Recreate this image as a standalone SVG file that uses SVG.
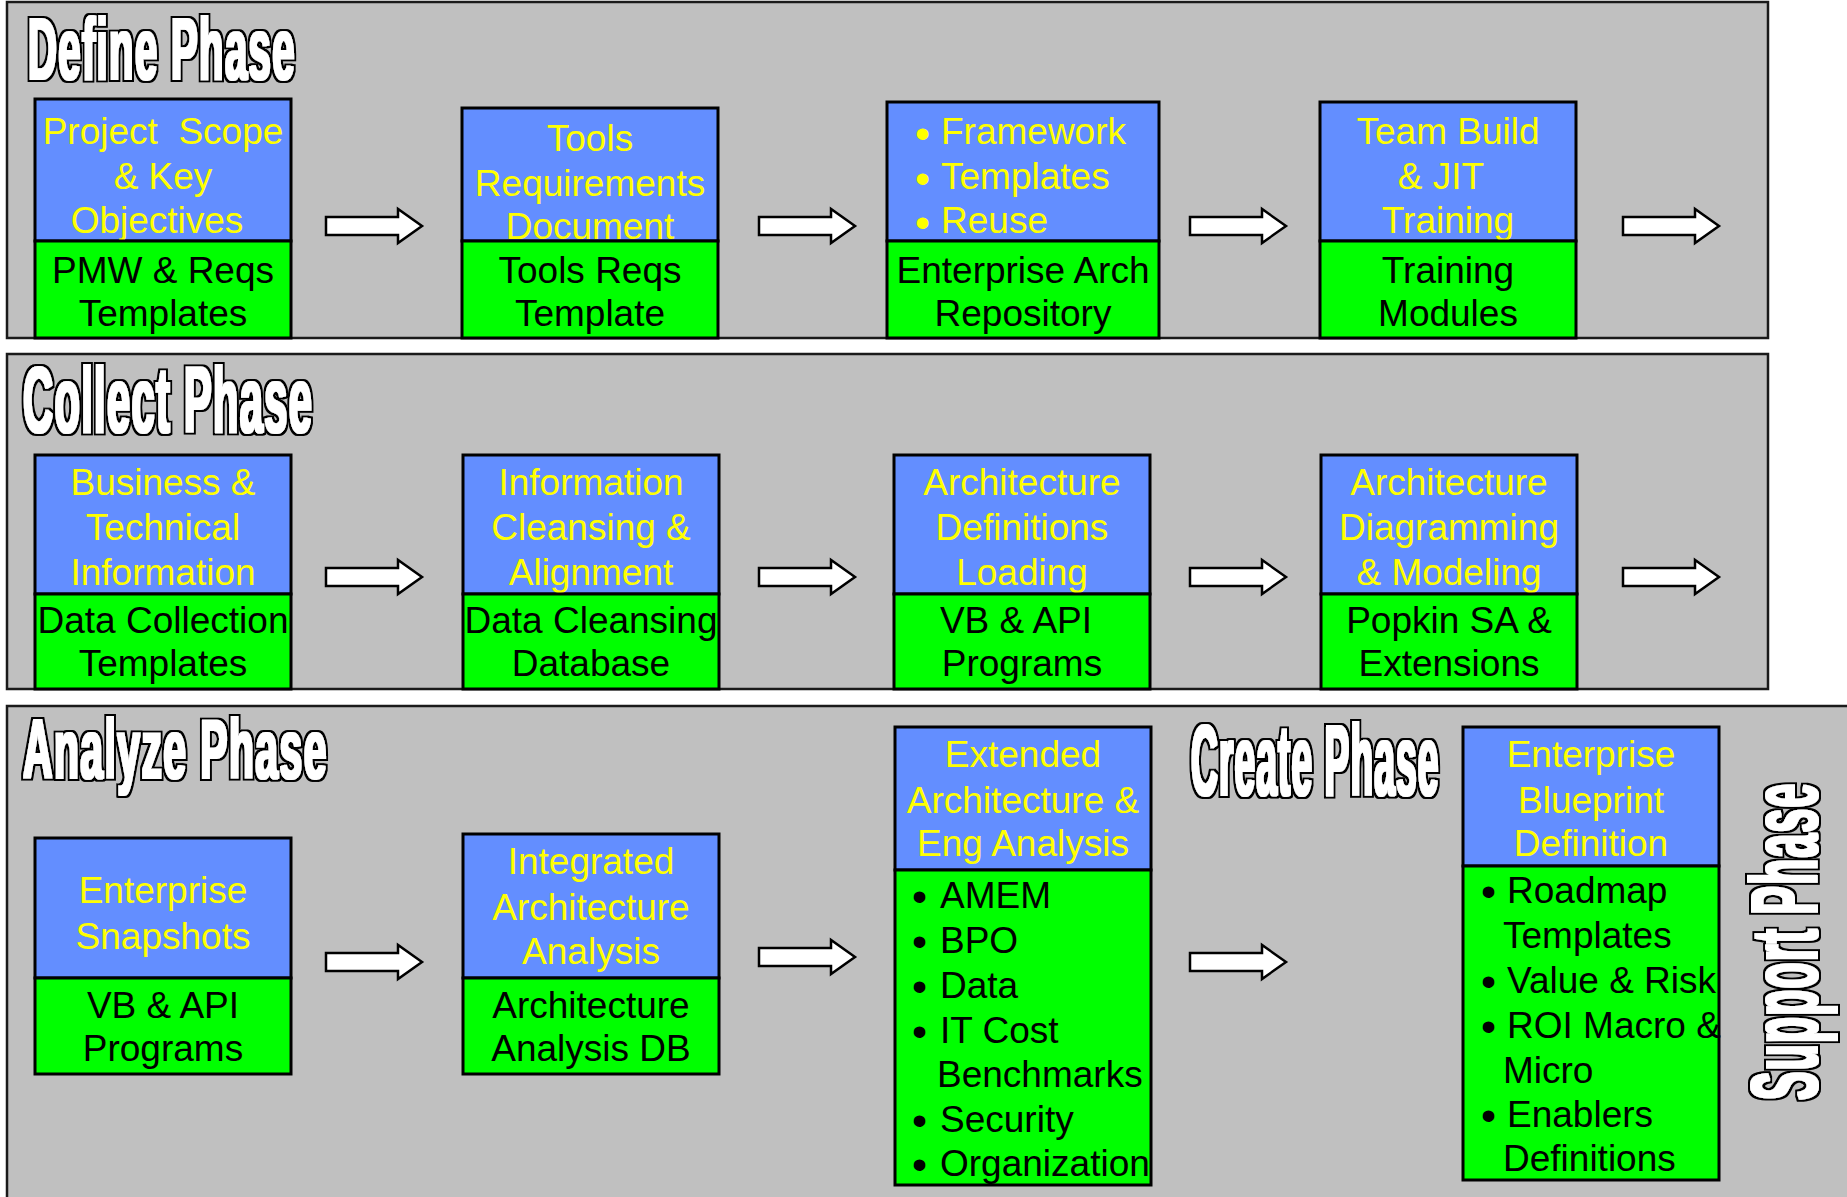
<svg xmlns="http://www.w3.org/2000/svg" width="1847" height="1197" viewBox="0 0 1847 1197">
<style>
.panel{fill:#C0C0C0;stroke:#1a1a1a;stroke-width:2.5}
.hb{fill:#638EFF;stroke:#000;stroke-width:3}
.gb{fill:#00FF00;stroke:#000;stroke-width:3}
.y{fill:#FFFF00;font-family:"Liberation Sans",Arial,sans-serif;font-size:37px;text-anchor:middle}
.k{fill:#000;font-family:"Liberation Sans",Arial,sans-serif;font-size:37px;text-anchor:middle}
.yl{fill:#FFFF00;font-family:"Liberation Sans",Arial,sans-serif;font-size:37px}
.kl{fill:#000;font-family:"Liberation Sans",Arial,sans-serif;font-size:37px}
.bu{font-size:43px}
.ttl{fill:#fff;font-family:"Liberation Sans",Arial,sans-serif;font-weight:bold;letter-spacing:3px}
.arr{fill:#fff;stroke:#000;stroke-width:2.5;stroke-linejoin:miter}
</style>
<defs>
<path id="arrow" class="arr" d="M0,-9 H72 V-17 L96,0 L72,17 V9 H0 Z"/>
<filter id="f47" x="-5%" y="-20%" width="110%" height="140%">
<feMorphology in="SourceAlpha" operator="dilate" radius="2.6 0.6" result="w"/>
<feMorphology in="SourceAlpha" operator="dilate" radius="6.6 2.5" result="b"/>
<feFlood flood-color="#000000"/>
<feComposite in2="b" operator="in" result="bo"/>
<feFlood flood-color="#ffffff"/>
<feComposite in2="w" operator="in" result="wo"/>
<feMerge><feMergeNode in="bo"/><feMergeNode in="wo"/></feMerge>
</filter>
<filter id="f39" x="-5%" y="-20%" width="110%" height="140%">
<feMorphology in="SourceAlpha" operator="dilate" radius="3.1 0.6" result="w"/>
<feMorphology in="SourceAlpha" operator="dilate" radius="8 2.5" result="b"/>
<feFlood flood-color="#000000"/>
<feComposite in2="b" operator="in" result="bo"/>
<feFlood flood-color="#ffffff"/>
<feComposite in2="w" operator="in" result="wo"/>
<feMerge><feMergeNode in="bo"/><feMergeNode in="wo"/></feMerge>
</filter>
<filter id="fS" x="-5%" y="-20%" width="110%" height="140%">
<feMorphology in="SourceAlpha" operator="dilate" radius="2 0.5" result="w"/>
<feMorphology in="SourceAlpha" operator="dilate" radius="6 2.5" result="b"/>
<feFlood flood-color="#000000"/>
<feComposite in2="b" operator="in" result="bo"/>
<feFlood flood-color="#ffffff"/>
<feComposite in2="w" operator="in" result="wo"/>
<feMerge><feMergeNode in="bo"/><feMergeNode in="wo"/></feMerge>
</filter>
</defs>

<g id="panels">
<rect id="define-panel" class="panel" x="7" y="2" width="1761" height="336"/>
<rect id="collect-panel" class="panel" x="7" y="354" width="1761" height="335"/>
<rect id="analyze-panel" class="panel" x="7" y="706" width="1845" height="500"/>
</g>

<g id="titles">
<text id="t-define" class="ttl" font-size="88" filter="url(#f47)" transform="translate(28,79) scale(0.455,1)">Define Phase</text>
<text id="t-collect" class="ttl" font-size="92" filter="url(#f47)" transform="translate(23,432) scale(0.452,1)">Collect Phase</text>
<text id="t-analyze" class="ttl" font-size="84" filter="url(#f47)" transform="translate(23,778) scale(0.486,1)">Analyze Phase</text>
<text id="t-create" class="ttl" font-size="100" filter="url(#f39)" transform="translate(1191,795) scale(0.371,1)">Create Phase</text>
<text id="t-support" class="ttl" font-size="94" filter="url(#fS)" transform="translate(1817,1100) rotate(-90) scale(0.452,1)">Support Phase</text>
</g>

<g id="connectors">
<use href="#arrow" x="326" y="226"/>
<use href="#arrow" x="759" y="226"/>
<use href="#arrow" x="1190" y="226"/>
<use href="#arrow" x="1623" y="226"/>
<use href="#arrow" x="326" y="577"/>
<use href="#arrow" x="759" y="577"/>
<use href="#arrow" x="1190" y="577"/>
<use href="#arrow" x="1623" y="577"/>
<use href="#arrow" x="326" y="962"/>
<use href="#arrow" x="759" y="957"/>
<use href="#arrow" x="1190" y="962"/>
</g>

<!-- Define phase -->
<g id="d1">
<rect class="hb" x="35" y="99" width="256" height="142"/>
<text class="y" x="163" y="144" xml:space="preserve">Project  Scope</text>
<text class="y" x="163" y="189">&amp; Key</text>
<text class="y" x="157" y="233">Objectives</text>
<rect class="gb" x="35" y="241" width="256" height="97"/>
<text class="k" x="163" y="283">PMW &amp; Reqs</text>
<text class="k" x="163" y="326">Templates</text>
</g>
<g id="d2">
<rect class="hb" x="462" y="108" width="256" height="133"/>
<text class="y" x="590" y="151">Tools</text>
<text class="y" x="590" y="196">Requirements</text>
<text class="y" x="590" y="239">Document</text>
<rect class="gb" x="462" y="241" width="256" height="97"/>
<text class="k" x="590" y="283">Tools Reqs</text>
<text class="k" x="590" y="326">Template</text>
</g>
<g id="d3">
<rect class="hb" x="887" y="102" width="272" height="139"/>
<text class="yl"><tspan class="bu" x="915" y="148">•</tspan><tspan x="941" y="144">Framework</tspan></text>
<text class="yl"><tspan class="bu" x="915" y="193">•</tspan><tspan x="941" y="189">Templates</tspan></text>
<text class="yl"><tspan class="bu" x="915" y="237">•</tspan><tspan x="941" y="233">Reuse</tspan></text>
<rect class="gb" x="887" y="241" width="272" height="97"/>
<text class="k" x="1023" y="283">Enterprise Arch</text>
<text class="k" x="1023" y="326">Repository</text>
</g>
<g id="d4">
<rect class="hb" x="1320" y="102" width="256" height="139"/>
<text class="y" x="1448" y="144">Team Build</text>
<text class="y" x="1441" y="189">&amp; JIT</text>
<text class="y" x="1448" y="233">Training</text>
<rect class="gb" x="1320" y="241" width="256" height="97"/>
<text class="k" x="1448" y="283">Training</text>
<text class="k" x="1448" y="326">Modules</text>
</g>

<!-- Collect phase -->
<g id="c1">
<rect class="hb" x="35" y="455" width="256" height="139"/>
<text class="y" x="163" y="495">Business &amp;</text>
<text class="y" x="163" y="540">Technical</text>
<text class="y" x="163" y="585">Information</text>
<rect class="gb" x="35" y="594" width="256" height="95"/>
<text class="k" x="163" y="633">Data Collection</text>
<text class="k" x="163" y="676">Templates</text>
</g>
<g id="c2">
<rect class="hb" x="463" y="455" width="256" height="139"/>
<text class="y" x="591" y="495">Information</text>
<text class="y" x="591" y="540">Cleansing &amp;</text>
<text class="y" x="591" y="585">Alignment</text>
<rect class="gb" x="463" y="594" width="256" height="95"/>
<text class="k" x="591" y="633">Data Cleansing</text>
<text class="k" x="591" y="676">Database</text>
</g>
<g id="c3">
<rect class="hb" x="894" y="455" width="256" height="139"/>
<text class="y" x="1022" y="495">Architecture</text>
<text class="y" x="1022" y="540">Definitions</text>
<text class="y" x="1022" y="585">Loading</text>
<rect class="gb" x="894" y="594" width="256" height="95"/>
<text class="k" x="1016" y="633">VB &amp; API</text>
<text class="k" x="1022" y="676">Programs</text>
</g>
<g id="c4">
<rect class="hb" x="1321" y="455" width="256" height="139"/>
<text class="y" x="1449" y="495">Architecture</text>
<text class="y" x="1449" y="540">Diagramming</text>
<text class="y" x="1449" y="585">&amp; Modeling</text>
<rect class="gb" x="1321" y="594" width="256" height="95"/>
<text class="k" x="1449" y="633">Popkin SA &amp;</text>
<text class="k" x="1449" y="676">Extensions</text>
</g>

<!-- Analyze phase -->
<g id="a1">
<rect class="hb" x="35" y="838" width="256" height="140"/>
<text class="y" x="163" y="903">Enterprise</text>
<text class="y" x="163" y="949">Snapshots</text>
<rect class="gb" x="35" y="978" width="256" height="96"/>
<text class="k" x="163" y="1018">VB &amp; API</text>
<text class="k" x="163" y="1061">Programs</text>
</g>
<g id="a2">
<rect class="hb" x="463" y="834" width="256" height="144"/>
<text class="y" x="591" y="874">Integrated</text>
<text class="y" x="591" y="920">Architecture</text>
<text class="y" x="591" y="964">Analysis</text>
<rect class="gb" x="463" y="978" width="256" height="96"/>
<text class="k" x="591" y="1018">Architecture</text>
<text class="k" x="591" y="1061">Analysis DB</text>
</g>
<g id="a3">
<rect class="hb" x="895" y="727" width="256" height="143"/>
<text class="y" x="1023" y="767">Extended</text>
<text class="y" x="1023" y="813">Architecture &amp;</text>
<text class="y" x="1023" y="856">Eng Analysis</text>
<rect class="gb" x="895" y="870" width="256" height="315"/>
<text class="kl"><tspan class="bu" x="912" y="911">•</tspan><tspan x="940" y="908">AMEM</tspan></text>
<text class="kl"><tspan class="bu" x="912" y="956">•</tspan><tspan x="940" y="953">BPO</tspan></text>
<text class="kl"><tspan class="bu" x="912" y="1001">•</tspan><tspan x="940" y="998">Data</tspan></text>
<text class="kl"><tspan class="bu" x="912" y="1046">•</tspan><tspan x="940" y="1043">IT Cost</tspan></text>
<text class="kl" x="937" y="1087">Benchmarks</text>
<text class="kl"><tspan class="bu" x="912" y="1135">•</tspan><tspan x="940" y="1132">Security</tspan></text>
<text class="kl"><tspan class="bu" x="912" y="1179">•</tspan><tspan x="940" y="1176">Organization</tspan></text>
</g>
<g id="a4">
<rect class="hb" x="1463" y="727" width="256" height="139"/>
<text class="y" x="1591" y="767">Enterprise</text>
<text class="y" x="1591" y="813">Blueprint</text>
<text class="y" x="1591" y="856">Definition</text>
<rect class="gb" x="1463" y="866" width="256" height="314"/>
<text class="kl"><tspan class="bu" x="1481" y="906">•</tspan><tspan x="1507" y="903">Roadmap</tspan></text>
<text class="kl" x="1503" y="948">Templates</text>
<text class="kl"><tspan class="bu" x="1481" y="996">•</tspan><tspan x="1507" y="993">Value &amp; Risk</tspan></text>
<text class="kl"><tspan class="bu" x="1481" y="1041">•</tspan><tspan x="1507" y="1038">ROI Macro &amp;</tspan></text>
<text class="kl" x="1503" y="1083">Micro</text>
<text class="kl"><tspan class="bu" x="1481" y="1130">•</tspan><tspan x="1507" y="1127">Enablers</tspan></text>
<text class="kl" x="1503" y="1171">Definitions</text>
</g>
</svg>
